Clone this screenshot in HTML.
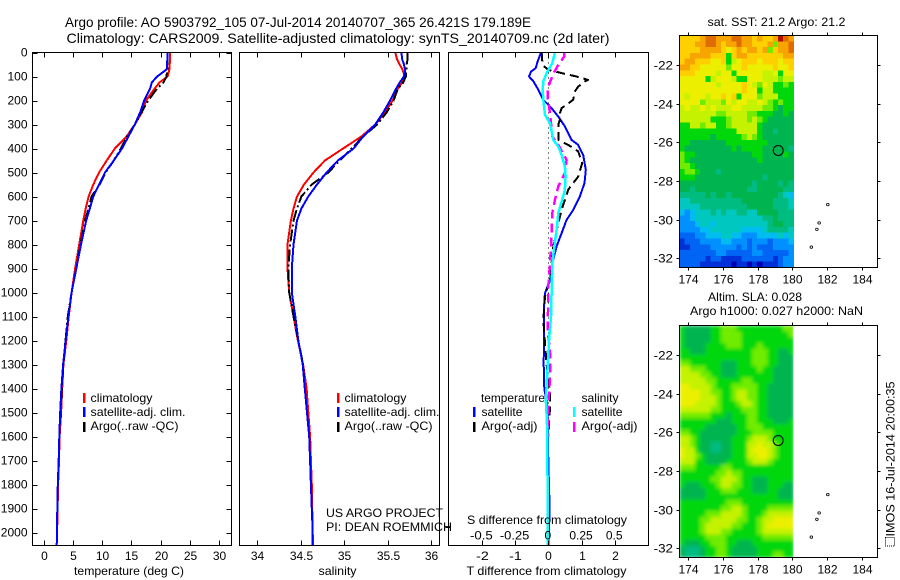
<!DOCTYPE html>
<html lang="en">
<head>
<meta charset="utf-8">
<title>Argo profile 5903792_105</title>
<style>
html,body{margin:0;padding:0;background:#fff;width:900px;height:580px;overflow:hidden}
svg{display:block}
text{font-family:"Liberation Sans",sans-serif;font-size:12px;fill:#000}
.title{font-size:14px}
</style>
</head>
<body>
<svg id="chart" xmlns="http://www.w3.org/2000/svg" width="900" height="580" viewBox="0 0 900 580">
  <defs>
    <clipPath id="sla-clip"><rect x="679.5" y="325.5" width="114" height="232"/></clipPath>
    <filter id="sla-smooth" x="-5%" y="-5%" width="110%" height="110%">
      <feGaussianBlur stdDeviation="1.8" edgeMode="duplicate"/>
    </filter>
  </defs>
  <rect x="0" y="0" width="900" height="580" fill="#fff"/>
  <g id="layer-maps"></g>
  <g id="layer-lines"></g>
  <g id="layer-axes"></g>

  <text class="title" x="65" y="27" textLength="466" lengthAdjust="spacingAndGlyphs">Argo profile: AO 5903792_105 07-Jul-2014 20140707_365 26.421S 179.189E</text>
  <text class="title" x="66.5" y="43" textLength="543" lengthAdjust="spacingAndGlyphs">Climatology: CARS2009. Satellite-adjusted climatology: synTS_20140709.nc (2d later)</text>

  <text x="129" y="575" text-anchor="middle" textLength="110" lengthAdjust="spacingAndGlyphs">temperature (deg C)</text>
  <text x="337.5" y="575" text-anchor="middle" textLength="38" lengthAdjust="spacingAndGlyphs">salinity</text>
  <text x="546.5" y="575" text-anchor="middle" textLength="160" lengthAdjust="spacingAndGlyphs">T difference from climatology</text>
  <text x="547" y="524" text-anchor="middle" textLength="160" lengthAdjust="spacingAndGlyphs">S difference from climatology</text>

  <g>
    <rect x="83" y="393" width="2.5" height="10" fill="#f00"/>
    <text x="90.5" y="402" textLength="62" lengthAdjust="spacingAndGlyphs">climatology</text>
    <rect x="83" y="407" width="2.5" height="10" fill="#00f"/>
    <text x="90.5" y="416" textLength="95" lengthAdjust="spacingAndGlyphs">satellite-adj. clim.</text>
    <rect x="83" y="422" width="2.5" height="10" fill="#000"/>
    <text x="90.5" y="430" textLength="88" lengthAdjust="spacingAndGlyphs">Argo(..raw -QC)</text>
  </g>
  <g>
    <rect x="337" y="393" width="2.5" height="10" fill="#f00"/>
    <text x="344.5" y="402" textLength="62" lengthAdjust="spacingAndGlyphs">climatology</text>
    <rect x="337" y="407" width="2.5" height="10" fill="#00f"/>
    <text x="344.5" y="416" textLength="95" lengthAdjust="spacingAndGlyphs">satellite-adj. clim.</text>
    <rect x="337" y="422" width="2.5" height="10" fill="#000"/>
    <text x="344.5" y="430" textLength="88" lengthAdjust="spacingAndGlyphs">Argo(..raw -QC)</text>
  </g>
  <g>
    <text x="481" y="402" textLength="64" lengthAdjust="spacingAndGlyphs">temperature</text>
    <rect x="473" y="407" width="2.5" height="10" fill="#00f"/>
    <text x="481.5" y="416" textLength="41" lengthAdjust="spacingAndGlyphs">satellite</text>
    <rect x="473" y="422" width="2.5" height="10" fill="#000"/>
    <text x="481.5" y="430" textLength="56" lengthAdjust="spacingAndGlyphs">Argo(-adj)</text>
    <text x="581.5" y="402" textLength="37" lengthAdjust="spacingAndGlyphs">salinity</text>
    <rect x="573" y="407" width="2.5" height="10" fill="#0ff"/>
    <text x="581.5" y="416" textLength="41" lengthAdjust="spacingAndGlyphs">satellite</text>
    <rect x="573" y="422" width="2.5" height="10" fill="#f0f"/>
    <text x="581.5" y="430" textLength="56" lengthAdjust="spacingAndGlyphs">Argo(-adj)</text>
  </g>

  <text x="326" y="517" textLength="117" lengthAdjust="spacingAndGlyphs">US ARGO PROJECT</text>
  <text x="326" y="531" textLength="126" lengthAdjust="spacingAndGlyphs">PI: DEAN ROEMMICH</text>

  <text x="776.5" y="26" text-anchor="middle" textLength="138" lengthAdjust="spacingAndGlyphs">sat. SST: 21.2 Argo: 21.2</text>
  <text x="755" y="301" text-anchor="middle" textLength="94" lengthAdjust="spacingAndGlyphs">Altim. SLA: 0.028</text>
  <text x="776.5" y="315" text-anchor="middle" textLength="173" lengthAdjust="spacingAndGlyphs">Argo h1000: 0.027 h2000: NaN</text>

  <rect x="885.5" y="537.5" width="9" height="8.5" fill="none" stroke="#000" stroke-width="1" stroke-dasharray="1 1" shape-rendering="crispEdges"/>
  <text transform="translate(894.5 536.5) rotate(-90)" textLength="155" lengthAdjust="spacingAndGlyphs">IMOS 16-Jul-2014 20:00:35</text>
</svg>

<script>
/* ---------- profile data (depth in metres) ---------- */
var profileDepths = [0,30,50,70,80,100,125,150,200,250,300,350,400,450,500,550,600,650,700,800,900,1000,1100,1200,1300,1400,1500,1600,1700,1800,1900,2000,2054];
var tempClimatology = [21.6,21.6,21.55,21.5,21.4,21.2,19.8,19.0,17.5,16.8,15.6,14.2,12.2,10.8,9.5,8.5,7.7,7.2,6.8,6.1,5.4,4.8,4.3,3.9,3.4,3.2,3.0,2.75,2.65,2.5,2.4,2.33,2.25];
var tempSatellite = [21.2,21.15,21.1,21.05,20.5,19.4,18.5,18.2,17.2,16.5,15.6,14.5,13.4,12.0,10.5,9.5,8.5,7.9,7.3,6.4,5.6,4.8,4.25,3.8,3.35,3.05,2.85,2.7,2.6,2.45,2.35,2.3,2.25];
var tempArgo = [21.2,21.2,21.2,21.15,21.1,21.0,20.5,19.4,17.9,16.7,15.6,14.3,13.2,12.0,10.6,9.6,8.2,7.7,7.1,6.3,5.6,4.8,4.15,3.75,3.4,3.15,2.9,2.7,2.6,2.45,2.35,2.3,2.25];

var salClimatology = [35.59,35.61,35.64,35.67,35.68,35.70,35.67,35.62,35.56,35.47,35.36,35.20,34.99,34.78,34.65,34.54,34.46,34.42,34.39,34.35,34.35,34.37,34.42,34.47,34.53,34.57,34.59,34.61,34.62,34.63,34.635,34.64,34.645];
var salSatellite = [35.66,35.67,35.69,35.70,35.70,35.69,35.64,35.60,35.53,35.45,35.36,35.22,35.11,34.93,34.80,34.69,34.59,34.51,34.46,34.42,34.40,34.40,34.44,34.475,34.525,34.55,34.575,34.60,34.61,34.62,34.63,34.64,34.64];
var salArgo = [35.73,35.73,35.72,35.72,35.71,35.71,35.68,35.62,35.57,35.49,35.38,35.22,35.09,34.95,34.82,34.63,34.51,34.46,34.42,34.38,34.36,34.37,34.42,34.475,34.53,34.55,34.575,34.60,34.61,34.62,34.63,34.64,34.64];

/* T and S anomalies from climatology */
var tDiffSatDepths = [0,37,65,80,100,120,155,197,232,267,308,364,385,427,489,544,600,656,697,753,808,878,947,1003,1030,1150,1300,1400,1480,1700,1850,1950,2054];
var tDiffSatellite = [-0.22,-0.32,-0.38,-0.52,-0.58,-0.45,-0.30,-0.15,0.10,0.30,0.50,0.70,0.90,1.05,1.13,1.09,0.95,0.75,0.55,0.40,0.25,0.12,0.05,-0.10,-0.12,-0.13,-0.14,-0.12,-0.02,0,0.03,0.03,0];
var tDiffArgoDepths = [0,37,55,72,86,100,114,121,142,162,197,232,253,280,301,364,385,412,461,517,544,572,614,656,711,808,878,947,1017,1114,1300,1420,1480,1600];
var tDiffArgo = [-0.20,-0.18,-0.15,0,0.40,0.85,1.2,1.1,0.9,0.8,0.75,0.40,0.35,0.35,0.30,0.30,0.60,0.90,1.02,0.90,0.75,0.60,0.50,0.40,0.30,0.15,0.10,0.05,-0.10,-0.15,-0.05,0.05,0.05,0];
var sDiffSatDepths = [0,44,86,120,155,197,260,295,364,392,427,475,517,572,614,669,739,808,878,1100,1200,1450,1550,1800,2054];
var sDiffSatellite = [0.05,0.03,-0.0125,-0.0375,-0.0425,-0.0375,-0.025,0.0125,0.0375,0.075,0.10,0.125,0.13,0.125,0.105,0.075,0.0625,0.045,0.03,0.02,0.005,-0.018,-0.01,-0.005,-0.005];
var sDiffArgoDepths = [0,17,52,86,142,183,253,350,385,447,503,558,614,669,739,808,878,974,1030,1150,1250,1350,1480,1600];
var sDiffArgo = [0.12,0.12,0.075,0.04,0,-0.005,0.0125,0.03,0.075,0.1375,0.125,0.075,0.05,0.03,0.025,0.02,0.0125,0,0,-0.005,0.0125,0.0125,0,0];

/* tick values */
var depthTicks = [0,100,200,300,400,500,600,700,800,900,1000,1100,1200,1300,1400,1500,1600,1700,1800,1900,2000];
var tempTicks = [0,5,10,15,20,25,30];
var salTicks = [34,34.5,35,35.5,36];
var tDiffTicks = [-2,-1,0,1,2];
var sDiffTicks = [-0.5,-0.25,0,0.25,0.5];
var lonTicks = [174,176,178,180,182,184];
var latTicks = [-22,-24,-26,-28,-30,-32];

/* float position */
var floatLon = [179.189];
var floatLat = [-26.421];

/* island outlines east of the data patch */
var islandLons = [182.05,181.42,181.55,181.1];
var islandLats = [-29.22,-30.5,-30.17,-31.42];

/* colour scale for gridded fields (level index to colour) */
var mapPalette = ['#0000b0','#0030d8','#0064f4','#0090ff','#00bcf0','#00c8c0','#00bc80','#00b450','#00d80c','#70ec00','#c4f200','#ecf000','#ffd000','#f8a400','#e06c00','#b01000'];

/* gridded sea surface temperature, colour level per cell, north to south */
var sstLevels = [
[12,12,12,12,13,14,14,13,13,13,14,14,13,13,12,13,12,12,13,15,14,13],
[12,12,12,13,13,14,14,13,12,13,13,14,13,13,12,12,12,13,9,13,13,14],
[12,12,12,12,13,13,13,13,12,11,12,13,12,13,13,12,13,9,12,13,13,14],
[12,12,13,13,13,13,12,12,12,8,12,13,13,12,12,12,12,12,12,12,13,13],
[12,13,13,12,12,12,11,11,12,8,10,11,12,12,12,11,12,12,12,11,12,12],
[13,13,12,12,11,11,11,11,11,9,11,11,12,11,11,11,11,11,12,11,11,12],
[12,12,12,11,11,11,11,10,11,11,8,11,11,11,11,11,10,10,11,8,11,11],
[11,11,11,11,11,8,10,11,11,11,10,8,8,11,11,11,10,10,10,9,10,10],
[11,11,11,11,11,11,11,10,11,11,11,11,12,11,10,9,11,10,8,8,9,8],
[11,11,11,11,11,11,11,11,11,11,11,11,12,11,11,8,10,10,8,8,8,8],
[11,10,11,11,11,10,11,11,12,11,12,8,11,11,11,9,10,10,10,8,8,8],
[11,11,11,11,9,10,10,10,9,11,10,11,11,10,10,11,10,9,8,9,8,8],
[10,11,10,10,11,10,11,10,10,10,11,11,10,10,10,10,9,9,8,7,8,8],
[10,10,10,10,10,10,10,9,9,10,10,10,10,9,9,8,8,8,7,7,8,7],
[10,10,10,10,10,10,8,8,8,9,10,10,10,9,10,9,8,7,7,7,7,7],
[8,8,10,10,9,10,10,8,8,9,10,10,10,10,10,8,7,7,7,7,7,7],
[8,8,8,8,8,8,8,8,8,8,8,10,10,10,10,8,7,7,6,7,7,7],
[8,8,8,8,8,8,7,8,8,8,8,8,9,10,9,8,7,7,7,7,7,7],
[8,8,7,7,7,7,7,7,7,8,8,8,8,8,8,8,8,7,7,7,7,7],
[8,7,7,7,7,7,7,7,7,7,8,7,8,8,8,8,7,7,7,7,7,6],
[9,8,8,7,7,7,7,7,7,7,7,7,7,7,8,8,7,7,7,7,8,7],
[9,8,7,7,7,7,7,7,7,7,7,7,7,7,7,8,7,7,7,7,7,7],
[9,9,8,7,7,7,7,7,7,7,7,7,7,7,7,7,7,7,7,7,7,7],
[8,9,9,8,7,7,7,6,7,7,7,7,7,7,7,7,7,7,7,7,7,7],
[8,8,8,7,7,7,7,7,7,7,7,7,7,7,7,7,6,7,7,7,7,7],
[7,7,7,7,7,7,7,7,7,7,7,7,7,7,6,7,7,7,7,6,7,6],
[7,7,6,7,7,7,7,7,7,7,7,7,7,6,6,7,7,7,7,7,6,6],
[6,6,6,6,6,7,6,7,7,6,7,7,7,7,7,7,7,7,7,6,5,4],
[5,5,6,6,6,6,6,6,6,6,6,6,7,7,7,7,7,7,6,6,6,5],
[5,5,5,5,6,6,6,6,6,6,6,6,6,7,7,7,7,7,6,6,6,5],
[4,3,4,5,5,5,6,5,6,5,5,6,6,5,5,7,7,7,7,6,6,6],
[3,3,4,5,5,5,5,5,5,5,5,5,5,5,5,5,6,6,7,6,6,6],
[3,3,3,4,5,5,4,5,5,5,5,5,5,5,5,5,5,6,7,7,6,6],
[3,3,3,3,4,4,5,5,5,5,5,5,4,4,4,4,5,6,6,6,6,5],
[2,2,2,3,3,4,4,4,5,5,4,4,3,3,3,4,4,4,4,5,4,5],
[1,2,2,2,3,3,3,3,4,4,3,3,3,2,3,3,3,2,3,3,3,4],
[1,1,2,2,2,2,3,3,3,3,3,2,3,2,3,2,2,2,3,3,3,3],
[2,2,2,2,2,2,2,3,3,2,2,2,2,2,3,3,2,2,2,2,2,3],
[2,2,2,2,2,1,2,2,1,1,1,1,2,2,2,2,2,2,1,2,3,3],
[2,2,2,2,1,1,1,1,1,1,0,1,1,0,1,0,1,1,1,2,3,3]
];

/* gridded sea level anomaly, colour level per cell, north to south */
var slaLevels = [
[8,7,7,7,7,7,8,8,9,9,9,8,8,8,8,8,8,8,8,8,9,9],
[8,7,7,7,7,7,8,8,9,9,9,9,8,8,8,8,8,8,8,8,8,9],
[8,7,7,7,7,7,8,8,9,9,9,9,8,8,8,8,8,8,8,8,8,8],
[8,7,7,7,7,8,8,8,8,9,9,9,8,8,8,9,8,8,8,8,8,8],
[8,8,7,7,7,8,8,8,8,8,8,8,8,8,9,9,9,8,8,7,7,8],
[8,8,8,8,8,8,8,8,8,8,8,8,8,8,9,9,9,8,8,7,7,7],
[9,9,8,8,8,8,8,8,7,7,7,8,8,8,9,9,9,8,8,7,7,7],
[10,10,9,9,9,8,8,8,7,7,7,8,8,8,8,9,8,8,7,7,7,7],
[10,10,10,10,9,9,8,8,7,7,7,8,8,8,8,8,8,8,7,7,7,7],
[10,10,10,10,10,9,9,8,8,8,8,8,9,9,8,8,8,8,7,7,7,7],
[11,11,10,10,10,10,9,8,8,8,9,9,9,9,9,8,8,7,7,7,7,7],
[11,11,11,11,10,10,9,9,8,8,9,10,10,9,9,8,8,7,7,7,7,7],
[11,11,11,11,10,10,10,9,8,8,9,10,10,9,9,8,8,7,7,7,7,7],
[11,11,11,10,10,10,10,9,8,8,8,9,10,10,9,8,8,7,7,7,7,7],
[10,10,10,10,10,10,9,9,8,8,8,8,9,9,9,8,8,7,7,7,7,7],
[9,9,9,9,9,9,8,8,8,7,8,8,8,9,9,8,8,7,7,7,7,7],
[8,8,8,8,8,8,8,7,7,7,8,8,8,9,9,8,8,8,7,7,7,8],
[8,8,8,8,8,7,7,7,7,7,7,8,8,9,9,9,8,8,8,8,8,8],
[9,9,8,8,7,7,7,7,7,7,7,8,8,8,9,9,9,9,8,8,8,8],
[10,10,9,8,7,7,7,7,7,7,8,8,8,9,10,10,10,9,8,8,8,8],
[10,10,9,8,7,7,6,6,7,7,8,8,8,10,10,11,10,10,9,8,8,8],
[11,10,10,8,7,7,6,6,7,7,8,8,8,10,11,11,11,10,9,8,8,8],
[11,10,10,9,8,7,7,7,7,7,8,8,8,10,10,11,11,10,9,8,8,8],
[10,10,10,8,8,7,7,7,7,8,8,8,8,9,10,10,10,9,8,8,8,8],
[9,9,9,8,8,8,8,8,9,9,8,8,8,8,8,8,8,8,8,8,8,8],
[8,8,8,8,8,8,8,9,9,10,9,9,8,8,8,8,8,8,8,8,8,8],
[8,8,8,8,8,8,9,9,10,10,10,9,8,8,7,7,7,8,8,8,8,8],
[8,7,7,7,8,8,8,9,10,10,9,9,8,8,7,7,7,8,8,8,7,7],
[7,7,7,7,7,8,8,8,9,9,9,8,8,8,7,7,7,8,8,7,7,7],
[7,7,7,7,7,8,8,8,8,8,8,8,8,8,8,8,8,8,8,7,7,7],
[8,8,8,8,8,8,8,8,8,9,9,9,8,8,8,8,8,8,8,8,8,8],
[8,8,8,8,8,8,8,8,9,9,10,10,9,8,8,8,8,9,9,9,9,9],
[8,8,8,8,8,9,9,9,10,10,10,10,9,8,8,8,9,10,10,10,10,10],
[8,8,8,8,9,9,10,10,10,10,10,9,9,8,8,9,10,10,11,11,11,11],
[8,8,8,8,9,10,10,10,10,10,9,9,8,8,8,9,10,11,11,11,11,11],
[8,8,8,8,9,10,10,10,9,9,8,8,8,8,8,9,10,10,10,10,10,10],
[8,8,8,8,8,9,9,9,9,8,8,8,8,8,8,8,9,9,9,9,9,9],
[8,7,7,7,8,8,9,9,9,8,8,7,7,7,8,8,8,8,8,8,8,8],
[7,6,6,6,7,8,8,9,9,8,7,7,7,7,7,8,8,8,8,8,8,8],
[7,6,6,6,7,8,8,9,9,8,7,7,7,7,7,8,8,8,9,9,8,8]
];

/* ---------- layout ---------- */
var NS = 'http://www.w3.org/2000/svg';
var linesLayer = document.getElementById('layer-lines');
var axesLayer = document.getElementById('layer-axes');
var mapsLayer = document.getElementById('layer-maps');

function make(tag, attrs, parent) {
  var el = document.createElementNS(NS, tag);
  for (var k in attrs) el.setAttribute(k, attrs[k]);
  parent.appendChild(el);
  return el;
}

var TOP = 52.5, BOTTOM = 545.5;
function yDepth(d) { return 52.5 + d * 0.24; }
function xTemp(t) { return 43.5 + t * 5.855; }
function xSal(s) { return 257 + (s - 34) * 87; }
function xTDiff(t) { return 548.3 + t * 33.2; }
function xSDiff(s) { return 548.3 + s * 132.8; }
function xLon(lon) { return 688.3 + (lon - 174) * 17.33; }
function ySst(lat) { return 65 + (-22 - lat) * 19.33; }
function ySla(lat) { return 355 + (-22 - lat) * 19.33; }

function drawProfile(name, depths, values, xFn, color, width, dash) {
  var pts = depths.map(function (d, i) { return xFn(values[i]).toFixed(1) + ',' + yDepth(d).toFixed(1); }).join(' ');
  var line = make('polyline', { points: pts, fill: 'none', stroke: color, 'stroke-width': width, 'stroke-linejoin': 'round', 'shape-rendering': 'crispEdges' }, linesLayer);
  if (dash) line.setAttribute('stroke-dasharray', dash);
  
  
}

/* temperature panel */
drawProfile('temperature-climatology-line', profileDepths, tempClimatology, xTemp, '#f00', 2);
drawProfile('temperature-argo-line', profileDepths, tempArgo, xTemp, '#000', 2, '12 3 2 3');
drawProfile('temperature-satellite-line', profileDepths, tempSatellite, xTemp, '#00f', 2);

/* salinity panel */
drawProfile('salinity-climatology-line', profileDepths, salClimatology, xSal, '#f00', 2);
drawProfile('salinity-argo-line', profileDepths, salArgo, xSal, '#000', 2, '12 3 2 3');
drawProfile('salinity-satellite-line', profileDepths, salSatellite, xSal, '#00f', 2);

/* difference panel */
var zeroLine = make('line', { x1: 548.5, x2: 548.5, y1: TOP, y2: BOTTOM, stroke: '#000', 'stroke-width': 1, 'stroke-dasharray': '1 4', 'shape-rendering': 'crispEdges' }, linesLayer);


drawProfile('t-difference-satellite-line', tDiffSatDepths, tDiffSatellite, xTDiff, '#00f', 2);
drawProfile('t-difference-argo-line', tDiffArgoDepths, tDiffArgo, xTDiff, '#000', 2, '9 5');
drawProfile('s-difference-argo-line', sDiffArgoDepths, sDiffArgo, xSDiff, '#f0f', 2.5, '9 5');
drawProfile('s-difference-satellite-line', sDiffSatDepths, sDiffSatellite, xSDiff, '#0ff', 2.5);

/* ---------- axes ---------- */
function drawFrame(name, x, y, w, h) {
  var r = make('rect', { x: x, y: y, width: w, height: h, fill: 'none', stroke: '#000', 'stroke-width': 1, 'shape-rendering': 'crispEdges' }, axesLayer);
  
  
}
function drawTick(name, x1, y1, x2, y2) {
  var t = make('line', { x1: x1, y1: y1, x2: x2, y2: y2, stroke: '#000', 'stroke-width': 1, 'shape-rendering': 'crispEdges' }, axesLayer);
  
  
}
/* the reference hyphen is wider than the Liberation one, so negative labels get stretched */
function labelWidth(str) {
  var w = 0;
  for (var i = 0; i < str.length; i++) {
    w += str[i] === '-' ? 6 : (str[i] === '.' ? 3.5 : 6.67);
  }
  return w;
}
function drawLabel(name, x, y, str, anchor) {
  var t = make('text', { x: x, y: y, 'text-anchor': anchor }, axesLayer);
  t.textContent = str;
  if (str[0] === '-') {
    t.setAttribute('textLength', labelWidth(str).toFixed(1));
    t.setAttribute('lengthAdjust', 'spacingAndGlyphs');
  }
  
  
}

drawFrame('temperature-panel-frame', 32.5, TOP, 199, BOTTOM - TOP);
drawFrame('salinity-panel-frame', 239.5, TOP, 200, BOTTOM - TOP);
drawFrame('difference-panel-frame', 448.5, TOP, 200, BOTTOM - TOP);

depthTicks.forEach(function (d) {
  var y = Math.round(yDepth(d)) + 0.5;
  drawTick('depth-tick', 32.5, y, 37.5, y);
  drawTick('depth-tick', 226.5, y, 231.5, y);
  drawLabel('depth-tick-label', 27.5, y + 3, String(d), 'end');
});
function xTicks(ticks, fn, name) {
  ticks.forEach(function (v) {
    var x = Math.round(fn(v)) + 0.5;
    drawTick(name + '-tick', x, TOP, x, TOP + 5);
    drawTick(name + '-tick', x, BOTTOM, x, BOTTOM - 5);
    drawLabel(name + '-tick-label', x, 560, String(v), 'middle');
  });
}
xTicks(tempTicks, xTemp, 'temperature');
xTicks(salTicks, xSal, 'salinity');
xTicks(tDiffTicks, xTDiff, 't-difference');

sDiffTicks.forEach(function (v) {
  drawLabel('s-difference-tick-label', xSDiff(v) - 0.5, 539.5, String(v), 'middle');
});
drawTick('s-difference-axis-stub', 445.5, 527.5, 450.5, 527.5);
drawTick('s-difference-axis-stub-end', 450.5, 524.5, 450.5, 530.5);

/* ---------- maps ---------- */
var MAP_W = 198, MAP_H = 232;
var MAP_LEFT = 679.5, PATCH_RIGHT = 793.5;

function drawField(name, levels, top, parent) {
  var rows = levels.length;
  var cols = levels[0].length;
  var cw = (PATCH_RIGHT - MAP_LEFT) / cols;
  var ch = MAP_H / rows;
  levels.forEach(function (row, r) {
    row.forEach(function (lvl, c) {
      var cell = make('rect', {
        x: (MAP_LEFT + c * cw).toFixed(2),
        y: (top + r * ch).toFixed(2),
        width: (cw + 0.3).toFixed(2),
        height: (ch + 0.3).toFixed(2),
        fill: mapPalette[lvl],
        'shape-rendering': 'crispEdges'
      }, parent);
      
      
    });
  });
}
drawField('sst', sstLevels, 35.5, mapsLayer);

var slaClip = make('g', { 'clip-path': 'url(#sla-clip)' }, mapsLayer);


var slaSmooth = make('g', { filter: 'url(#sla-smooth)' }, slaClip);


drawField('sla', slaLevels, 325.5, slaSmooth);

function drawMapAxes(prefix, top, yFn) {
  var frame = make('rect', { x: MAP_LEFT, y: top, width: MAP_W, height: MAP_H, fill: 'none', stroke: '#000', 'stroke-width': 1, 'shape-rendering': 'crispEdges' }, axesLayer);
  
  
  var bottom = top + MAP_H;
  lonTicks.forEach(function (lon) {
    var x = Math.round(xLon(lon)) + 0.5;
    drawTick(prefix + '-lon-tick', x, top, x, top - 3);
    drawTick(prefix + '-lon-tick', x, bottom, x, bottom + 3);
    drawLabel(prefix + '-lon-tick-label', x, bottom + 16, String(lon), 'middle');
  });
  latTicks.forEach(function (lat) {
    var y = Math.round(yFn(lat)) + 0.5;
    drawTick(prefix + '-lat-tick', MAP_LEFT, y, MAP_LEFT - 3, y);
    drawTick(prefix + '-lat-tick', MAP_LEFT + MAP_W, y, MAP_LEFT + MAP_W + 3, y);
    drawLabel(prefix + '-lat-tick-label', 673, y + 4, String(lat), 'end');
  });
  floatLon.forEach(function (lon, i) {
    var c = make('circle', { cx: xLon(lon), cy: yFn(floatLat[i]), r: 5, fill: 'none', stroke: '#000', 'stroke-width': 1 }, axesLayer);
    
    
  });
  islandLons.forEach(function (lon, i) {
    var isl = make('ellipse', { cx: xLon(lon), cy: yFn(islandLats[i]), rx: 1.3, ry: 1.2, fill: 'none', stroke: '#000', 'stroke-width': 0.8 }, axesLayer);
    
    
  });
}
drawMapAxes('sst', 35.5, ySst);
drawMapAxes('sla', 325.5, ySla);
</script>
</body>
</html>
